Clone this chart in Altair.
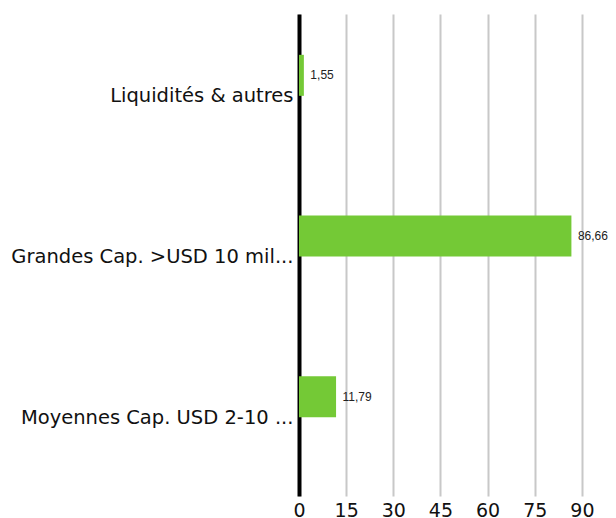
import altair as alt
import pandas as pd

categories = ["Liquidités & autres", "Grandes Cap. >USD 10 mil...", "Moyennes Cap. USD 2-10 ..."]
values = [1.55, 86.66, 11.79]
value_labels = ["1,55", "86,66", "11,79"]
tick_values = [0, 15, 30, 45, 60, 75, 90]

df = pd.DataFrame({"cat": categories, "val": values, "lab": value_labels})

FONT = "DejaVu Sans"
W, H = 309, 482
X_MAX = 98.3

x_enc = alt.X(
    "val:Q",
    scale=alt.Scale(domain=[0, X_MAX], nice=False, zero=True),
    axis=alt.Axis(
        values=tick_values, title=None, grid=True, gridColor="#c8c8c8", gridWidth=2,
        domain=False, ticks=False, labelFontSize=19, labelColor="#111",
        labelPadding=5, labelFont=FONT, labelFlush=False,
    ),
)
y_enc = alt.Y(
    "cat:N",
    sort=categories,
    scale=alt.Scale(paddingInner=0, paddingOuter=0),
    axis=alt.Axis(
        title=None, domain=True, domainColor="#000", domainWidth=4, ticks=False,
        labelFontSize=19.5, labelLimit=320, labelPadding=6, labelFont=FONT,
        labelColor="#111", grid=False, labelOffset=2,
    ),
)

bars = alt.Chart(df).mark_bar(size=41, yOffset=-19, color="#74C936").encode(
    x=x_enc, y=y_enc
)
text = alt.Chart(df).mark_text(
    align="left", baseline="middle", dx=6.5, yOffset=-19, fontSize=12,
    color="#222", font="Liberation Sans",
).encode(x="val:Q", y=alt.Y("cat:N", sort=categories), text="lab:N")

chart = (
    alt.layer(bars, text)
    .properties(
        width=W, height=H,
        autosize=alt.AutoSizeParams(type="none"),
        padding={"left": 291, "top": 6, "right": 0, "bottom": 22},
    )
    .configure_view(stroke=None)
)

chart.save("out.html", embed_options={"renderer": "svg", "actions": False})
